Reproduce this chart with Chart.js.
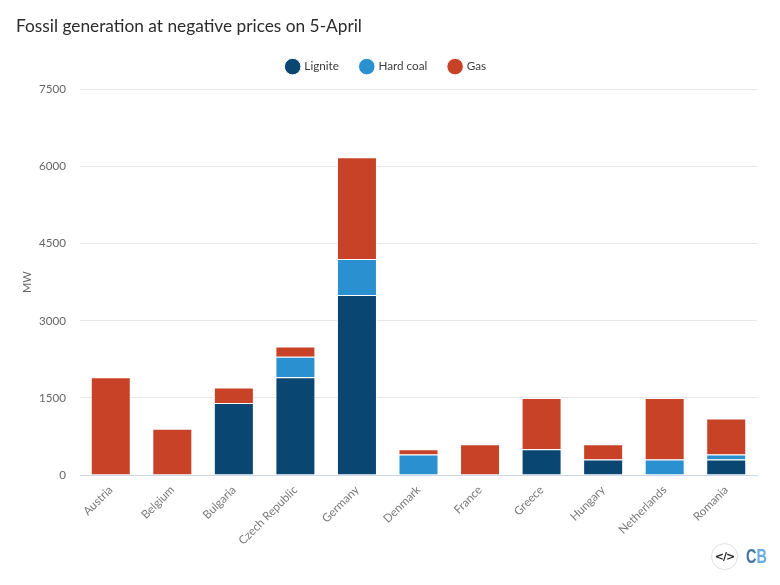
<!DOCTYPE html>
<html>
<head>
<meta charset="utf-8">
<script src="https://cdn.jsdelivr.net/npm/chart.js@4"></script>
<style>
html,body{margin:0;padding:0;background:#fff;width:780px;height:585px;overflow:hidden}
#wrap{position:relative;width:780px;height:585px}
#embed{position:absolute;left:711px;top:543px;width:25px;height:25px;border:1px solid #e3dcdc;border-radius:50%;font:bold 11px "DejaVu Sans",sans-serif;color:#222;text-align:center;line-height:25px;letter-spacing:-1px;background:#fff}
#logo{position:absolute;left:746px;top:543px;font:bold 20px "Liberation Sans",sans-serif;line-height:26px;transform:scaleX(.72);transform-origin:0 0}
#logo .c{color:#3f73a1}#logo .b{color:#69ade0}
</style>
</head>
<body>
<div id="wrap">
<canvas id="c" width="780" height="585"></canvas>
<div id="embed">&lt;/&gt;</div>
<div id="logo"><span class="c">C</span><span class="b">B</span></div>
</div>
<script>
const titleText = "Fossil generation at negative prices on 5-April";
const axisLabel = "MW";
const categories = ["Austria","Belgium","Bulgaria","Czech Republic","Germany","Denmark","France","Greece","Hungary","Netherlands","Romania"];
const lignite  = [0,0,1400,1900,3500,0,0,500,300,0,300];
const hardCoal = [0,0,0,400,700,400,0,0,0,300,100];
const gas      = [1900,900,300,200,1980,100,600,1000,300,1200,700];
const yMax = 7500;
const yStep = 1500;
const FONT = 'Lato, sans-serif';
const mk = (label, data, color) => ({label, data, backgroundColor: color, borderColor: "#ffffff", borderWidth: 1, stack: "s", barPercentage: 1, categoryPercentage: 0.65});
const legendSpacer = {id: "legendSpacer", beforeInit(chart){
  const f = chart.legend.fit;
  chart.legend.fit = function(){ f.call(this); this.height += 7; };
}};
new Chart(document.getElementById("c"), {
  type: "bar",
  plugins: [legendSpacer],
  data: {labels: categories, datasets: [
    mk("Lignite", lignite, "#0a4672"),
    mk("Hard coal", hardCoal, "#2a90d0"),
    mk("Gas", gas, "#c84227")
  ]},
  options: {
    responsive: false,
    animation: false,
    devicePixelRatio: 1,
    layout: {padding: {left: 16, right: 23, top: 16, bottom: 0}},
    plugins: {
      tooltip: {enabled: false},
      title: {display: true, text: titleText, align: "start", color: "#2b2b2b",
        font: {family: FONT, size: 17.3, weight: "normal"}, padding: {top: 0, bottom: 2}},
      legend: {position: "top", align: "center",
        labels: {usePointStyle: true, pointStyle: "circle", boxWidth: 12, boxHeight: 12, padding: 22, color: "#3c3c3c", font: {family: FONT, size: 11.7}}}
    },
    scales: {
      x: {stacked: true,
        grid: {display: false, drawTicks: false},
        border: {color: "#cfd8e8", width: 1},
        ticks: {color: "#7a7a7a", font: {family: FONT, size: 11.6}, maxRotation: 45, minRotation: 45, padding: 8, autoSkip: false},
        afterFit(s){ s.height = 110; }
      },
      y: {stacked: true, min: 0, max: yMax,
        grid: {color: "#e6e6e6", lineWidth: 1, drawTicks: false},
        border: {display: false},
        ticks: {stepSize: yStep, color: "#666666", font: {family: FONT, size: 11.6}, padding: 14,
          callback(v){ return String(v); }},
        title: {display: true, text: axisLabel, color: "#666666", font: {family: FONT, size: 11}, padding: {top: 5, bottom: 0}},
        afterFit(s){ s.width = 64; }
      }
    }
  }
});
</script>
</body>
</html>
